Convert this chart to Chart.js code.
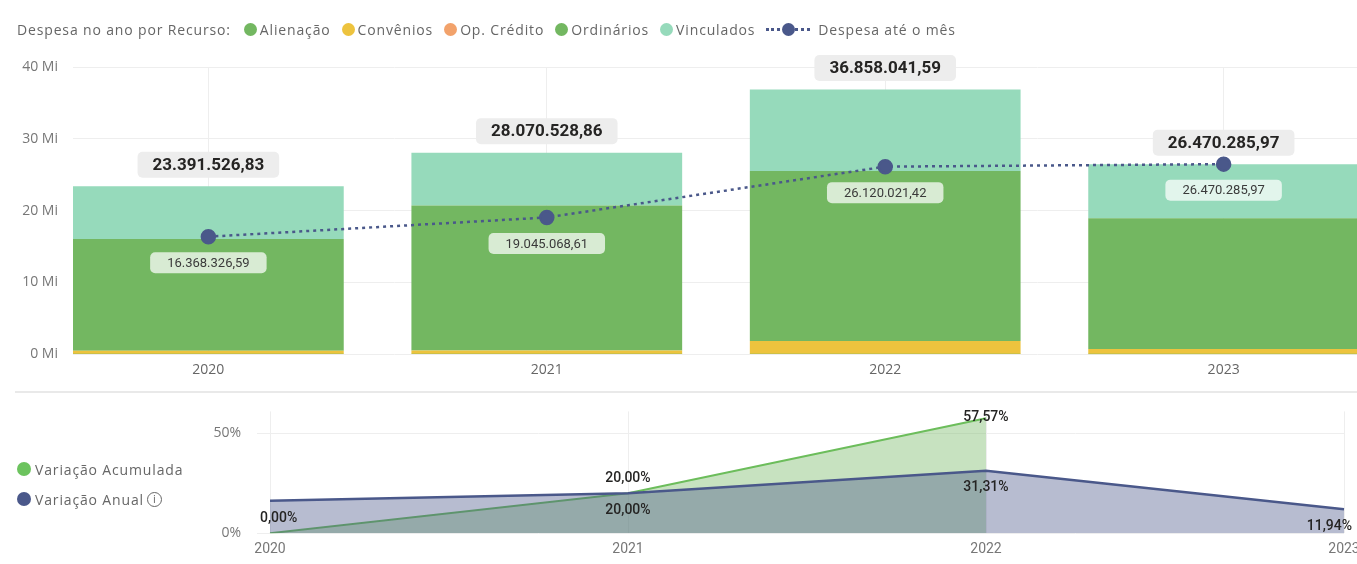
<!DOCTYPE html>
<html>
<head>
<meta charset="utf-8">
<script src="https://cdn.jsdelivr.net/npm/chart.js@4.4.1/dist/chart.umd.min.js"></script>
<style>
  body { margin: 0; width: 1357px; height: 564px; overflow: hidden; background: #fff; position: relative; font-family: 'Open Sans', sans-serif; }
  .legend { position: absolute; font-size: 14px; color: #666; white-space: nowrap; letter-spacing: 0.85px; }
  #legendTop { left: 17px; top: 20px; display: flex; align-items: center; }
  #legendTop .ttl { margin-right: 13px; }
  #legendTop .item { display: flex; align-items: center; margin-right: 11px; }
  .dot { display: inline-block; width: 13px; height: 13px; border-radius: 50%; margin-right: 3px; }
  .lineMark { display: inline-block; position: relative; width: 44px; height: 13px; margin-right: 8px; }
  .lineMark:before { content: ''; position: absolute; left: 0; right: 0; top: 5px; border-top: 3px dotted #4A588A; }
  .lineMark i { position: absolute; left: 16px; top: 0; width: 13px; height: 13px; border-radius: 50%; background: #4A588A; }
  #legendBottom { left: 17px; top: 458px; }
  #legendBottom .item { display: flex; align-items: center; height: 22px; margin-bottom: 8px; }
  #legendBottom .dot { width: 14px; height: 14px; margin-right: 4px; }
  .info { display: inline-block; width: 13px; height: 13px; border: 1.3px solid #666; border-radius: 50%; font-size: 10px; line-height: 13px; text-align: center; margin-left: 3px; font-family: 'DejaVu Sans', sans-serif; letter-spacing: 0; }
  #topWrap { position: absolute; left: 0; top: 0; width: 1368px; height: 385px; }
  #sep { position: absolute; left: 15px; top: 391px; width: 1342px; height: 2px; background: #e9e9e9; }
  #bottomWrap { position: absolute; left: 0; top: 387px; width: 1400px; height: 185px; }
</style>
</head>
<body>
<div id="sep"></div>
<div id="topWrap"><canvas id="topChart"></canvas></div>
<div id="bottomWrap"><canvas id="bottomChart"></canvas></div>
<div id="legendTop" class="legend"><span class="ttl">Despesa no ano por Recurso:</span></div>
<div id="legendBottom" class="legend"></div>
<script>
// anos e valores por recurso (R$)
var years = [2020, 2021, 2022, 2023];
var alienacao = [20000, 15000, 25000, 10000];
var convenios = [450000, 500000, 1800000, 700000];
var opCredito = [0, 0, 0, 0];
var ordinarios = [15570000, 20185000, 23675000, 18210000];
var vinculados = [7351526.83, 7370528.86, 11358041.59, 7550285.97];
var despesaMes = [16368326.59, 19045068.61, 26120021.42, 26470285.97];

// variacoes (%)
var acumulada = [0, 20.00, 57.57, null];
var anual = [16.3, 20.00, 31.31, 11.94];

var yTicks = [0, 10000000, 20000000, 30000000, 40000000];
var pctTicks = [0, 50];

var barSeries = [
  { label: 'Alienação', data: alienacao, color: '#73B761' },
  { label: 'Convênios', data: convenios, color: '#EDC33E' },
  { label: 'Op. Crédito', data: opCredito, color: '#F2A26B' },
  { label: 'Ordinários', data: ordinarios, color: '#73B761' },
  { label: 'Vinculados', data: vinculados, color: '#96DABB' }
];

function fmt(v) {
  return v.toLocaleString('pt-BR', { minimumFractionDigits: 2, maximumFractionDigits: 2 });
}

//draws a text inside a rounded box centered on x,y
function drawTag(ctx, text, x, y, font, color, bg, pad, h) {
  ctx.save();
  ctx.font = font;
  var w = ctx.measureText(text).width + pad * 2;
  ctx.fillStyle = bg;
  ctx.beginPath();
  ctx.roundRect(x - w / 2, y - h / 2, w, h, 5);
  ctx.fill();
  ctx.fillStyle = color;
  ctx.textAlign = 'center';
  ctx.textBaseline = 'middle';
  ctx.fillText(text, x, y + 1);
  ctx.restore();
}

var topLabels = {
  id: 'topLabels',
  afterDatasetsDraw: function (chart) {
    var ctx = chart.ctx;
    var lineMeta = chart.getDatasetMeta(0);
    var barMeta = chart.getDatasetMeta(barSeries.length);
    years.forEach(function (yr, i) {
      var total = barSeries.reduce(function (s, d) { return s + d.data[i]; }, 0);
      var x = barMeta.data[i].x;
      var yTop = chart.scales.y.getPixelForValue(total);
      drawTag(ctx, fmt(total), x, yTop - 21.5, 'bold 17px Roboto', '#252423', '#ededed', 15, 26);
      var p = lineMeta.data[i];
      drawTag(ctx, fmt(despesaMes[i]), p.x, p.y + 26, '13px Roboto', '#3a3a3a', 'rgba(255,255,255,0.72)', 17, 21);
    });
  }
};

var datasetsTop = [{
  type: 'line',
  label: 'Despesa até o mês',
  data: years.map(function (y, i) { return { x: y, y: despesaMes[i] }; }),
  borderColor: '#4A588A',
  backgroundColor: '#4A588A',
  borderWidth: 2.5,
  borderDash: [3, 4],
  pointRadius: 6.5,
  pointHoverRadius: 6.5,
  tension: 0,
  order: 0
}];
barSeries.forEach(function (s) {
  datasetsTop.push({
    type: 'bar',
    label: s.label,
    data: years.map(function (y, i) { return { x: y, y: s.data[i] }; }),
    backgroundColor: s.color,
    categoryPercentage: 1,
    barPercentage: 0.8,
    order: 1
  });
});

var topChart = new Chart(document.getElementById('topChart'), {
  data: { datasets: datasetsTop },
  options: {
    responsive: true,
    maintainAspectRatio: false,
    animation: false,
    layout: { padding: { top: 67, bottom: 0 } },
    plugins: { legend: { display: false }, tooltip: { enabled: false } },
    scales: {
      x: {
        type: 'linear', min: 2019.6, max: 2023.4, stacked: true, offset: false,
        afterBuildTicks: function (s) { s.ticks = years.map(function (v) { return { value: v }; }); },
        ticks: { callback: function (v) { return String(v); }, color: '#666', font: { family: 'Open Sans', size: 14 }, padding: 7 },
        grid: { color: '#eeeeee', drawTicks: false, offset: false },
        border: { display: false }
      },
      y: {
        stacked: true, min: 0, max: 40000000,
        afterBuildTicks: function (s) { s.ticks = yTicks.map(function (v) { return { value: v }; }); },
        afterFit: function (s) { s.width = 73; },
        ticks: { callback: function (v) { return (v / 1000000) + ' Mi'; }, color: '#777', font: { family: 'Open Sans', size: 14 }, padding: 15 },
        grid: { color: '#eeeeee', drawTicks: false },
        border: { display: false }
      }
    }
  },
  plugins: [topLabels]
});

var bottomLabels = {
  id: 'bottomLabels',
  afterDatasetsDraw: function (chart) {
    var ctx = chart.ctx, area = chart.chartArea, boxes = [];
    ctx.save();
    ctx.font = '500 14px Roboto';
    ctx.fillStyle = '#252423';
    ctx.textAlign = 'center';
    ctx.textBaseline = 'middle';
    chart.data.datasets.forEach(function (ds, di) {
      var meta = chart.getDatasetMeta(di);
      meta.data.forEach(function (pt, i) {
        var v = ds.data[i];
        if (v === null) return;
        var txt = fmt(v) + '%';
        var w = ctx.measureText(txt).width;
        var x = Math.max(Math.min(pt.x, area.right + 8 - w / 2), area.left - 10 + w / 2);
        var y = di === 0 ? pt.y - 15 : pt.y + 17;
        y = Math.min(Math.max(y, area.top + 6), area.bottom - 7);
        var b = { l: x - w / 2, r: x + w / 2, t: y - 8, b: y + 8 };
        var hit = boxes.some(function (o) { return o.l < b.r && b.l < o.r && o.t < b.b && b.t < o.b; });
        if (hit) return;
        boxes.push(b);
        ctx.fillText(txt, x, y);
      });
    });
    ctx.restore();
  }
};

var bottomChart = new Chart(document.getElementById('bottomChart'), {
  type: 'line',
  data: {
    labels: years.map(String),
    datasets: [
      { label: 'Variação Acumulada', data: acumulada, borderColor: '#6CBD5B', backgroundColor: 'rgba(115,183,97,0.4)', fill: 'origin', borderWidth: 2, pointRadius: 0, tension: 0, order: 1, legendColor: '#6CC35E' },
      { label: 'Variação Anual', data: anual, borderColor: '#4A588A', backgroundColor: 'rgba(74,88,138,0.4)', fill: 'origin', borderWidth: 2.5, pointRadius: 0, tension: 0, order: 0, legendColor: '#4A588A' }
    ]
  },
  options: {
    responsive: true,
    maintainAspectRatio: false,
    animation: false,
    layout: { padding: { top: 15, right: 56, bottom: 6 } },
    plugins: { legend: { display: false }, tooltip: { enabled: false } },
    scales: {
      x: {
        offset: false,
        ticks: { color: '#777', font: { family: 'Roboto', size: 14 }, padding: 8 },
        grid: { color: '#eeeeee', drawTicks: false },
        border: { display: false }
      },
      y: {
        min: 0, max: 61,
        afterBuildTicks: function (s) { s.ticks = pctTicks.map(function (v) { return { value: v }; }); },
        afterFit: function (s) { s.width = 270; },
        ticks: { callback: function (v) { return v + '%'; }, color: '#777', font: { family: 'Open Sans', size: 14 }, padding: 16 },
        grid: { color: '#eeeeee', tickLength: 13 },
        border: { display: false }
      }
    }
  },
  plugins: [bottomLabels]
});

// html legends built from the datasets
var lt = document.getElementById('legendTop');
barSeries.forEach(function (s) {
  var it = document.createElement('span');
  it.className = 'item';
  it.innerHTML = '<span class="dot" style="background:' + s.color + '"></span>' + s.label;
  lt.appendChild(it);
});
var li = document.createElement('span');
li.className = 'item';
li.innerHTML = '<span class="lineMark"><i></i></span>' + datasetsTop[0].label;
lt.appendChild(li);

var lb = document.getElementById('legendBottom');
bottomChart.data.datasets.forEach(function (ds, i) {
  var it = document.createElement('div');
  it.className = 'item';
  it.innerHTML = '<span class="dot" style="background:' + ds.legendColor + '"></span>' + ds.label + (i === 1 ? '<span class="info">i</span>' : '');
  lb.appendChild(it);
});
</script>
</body>
</html>
